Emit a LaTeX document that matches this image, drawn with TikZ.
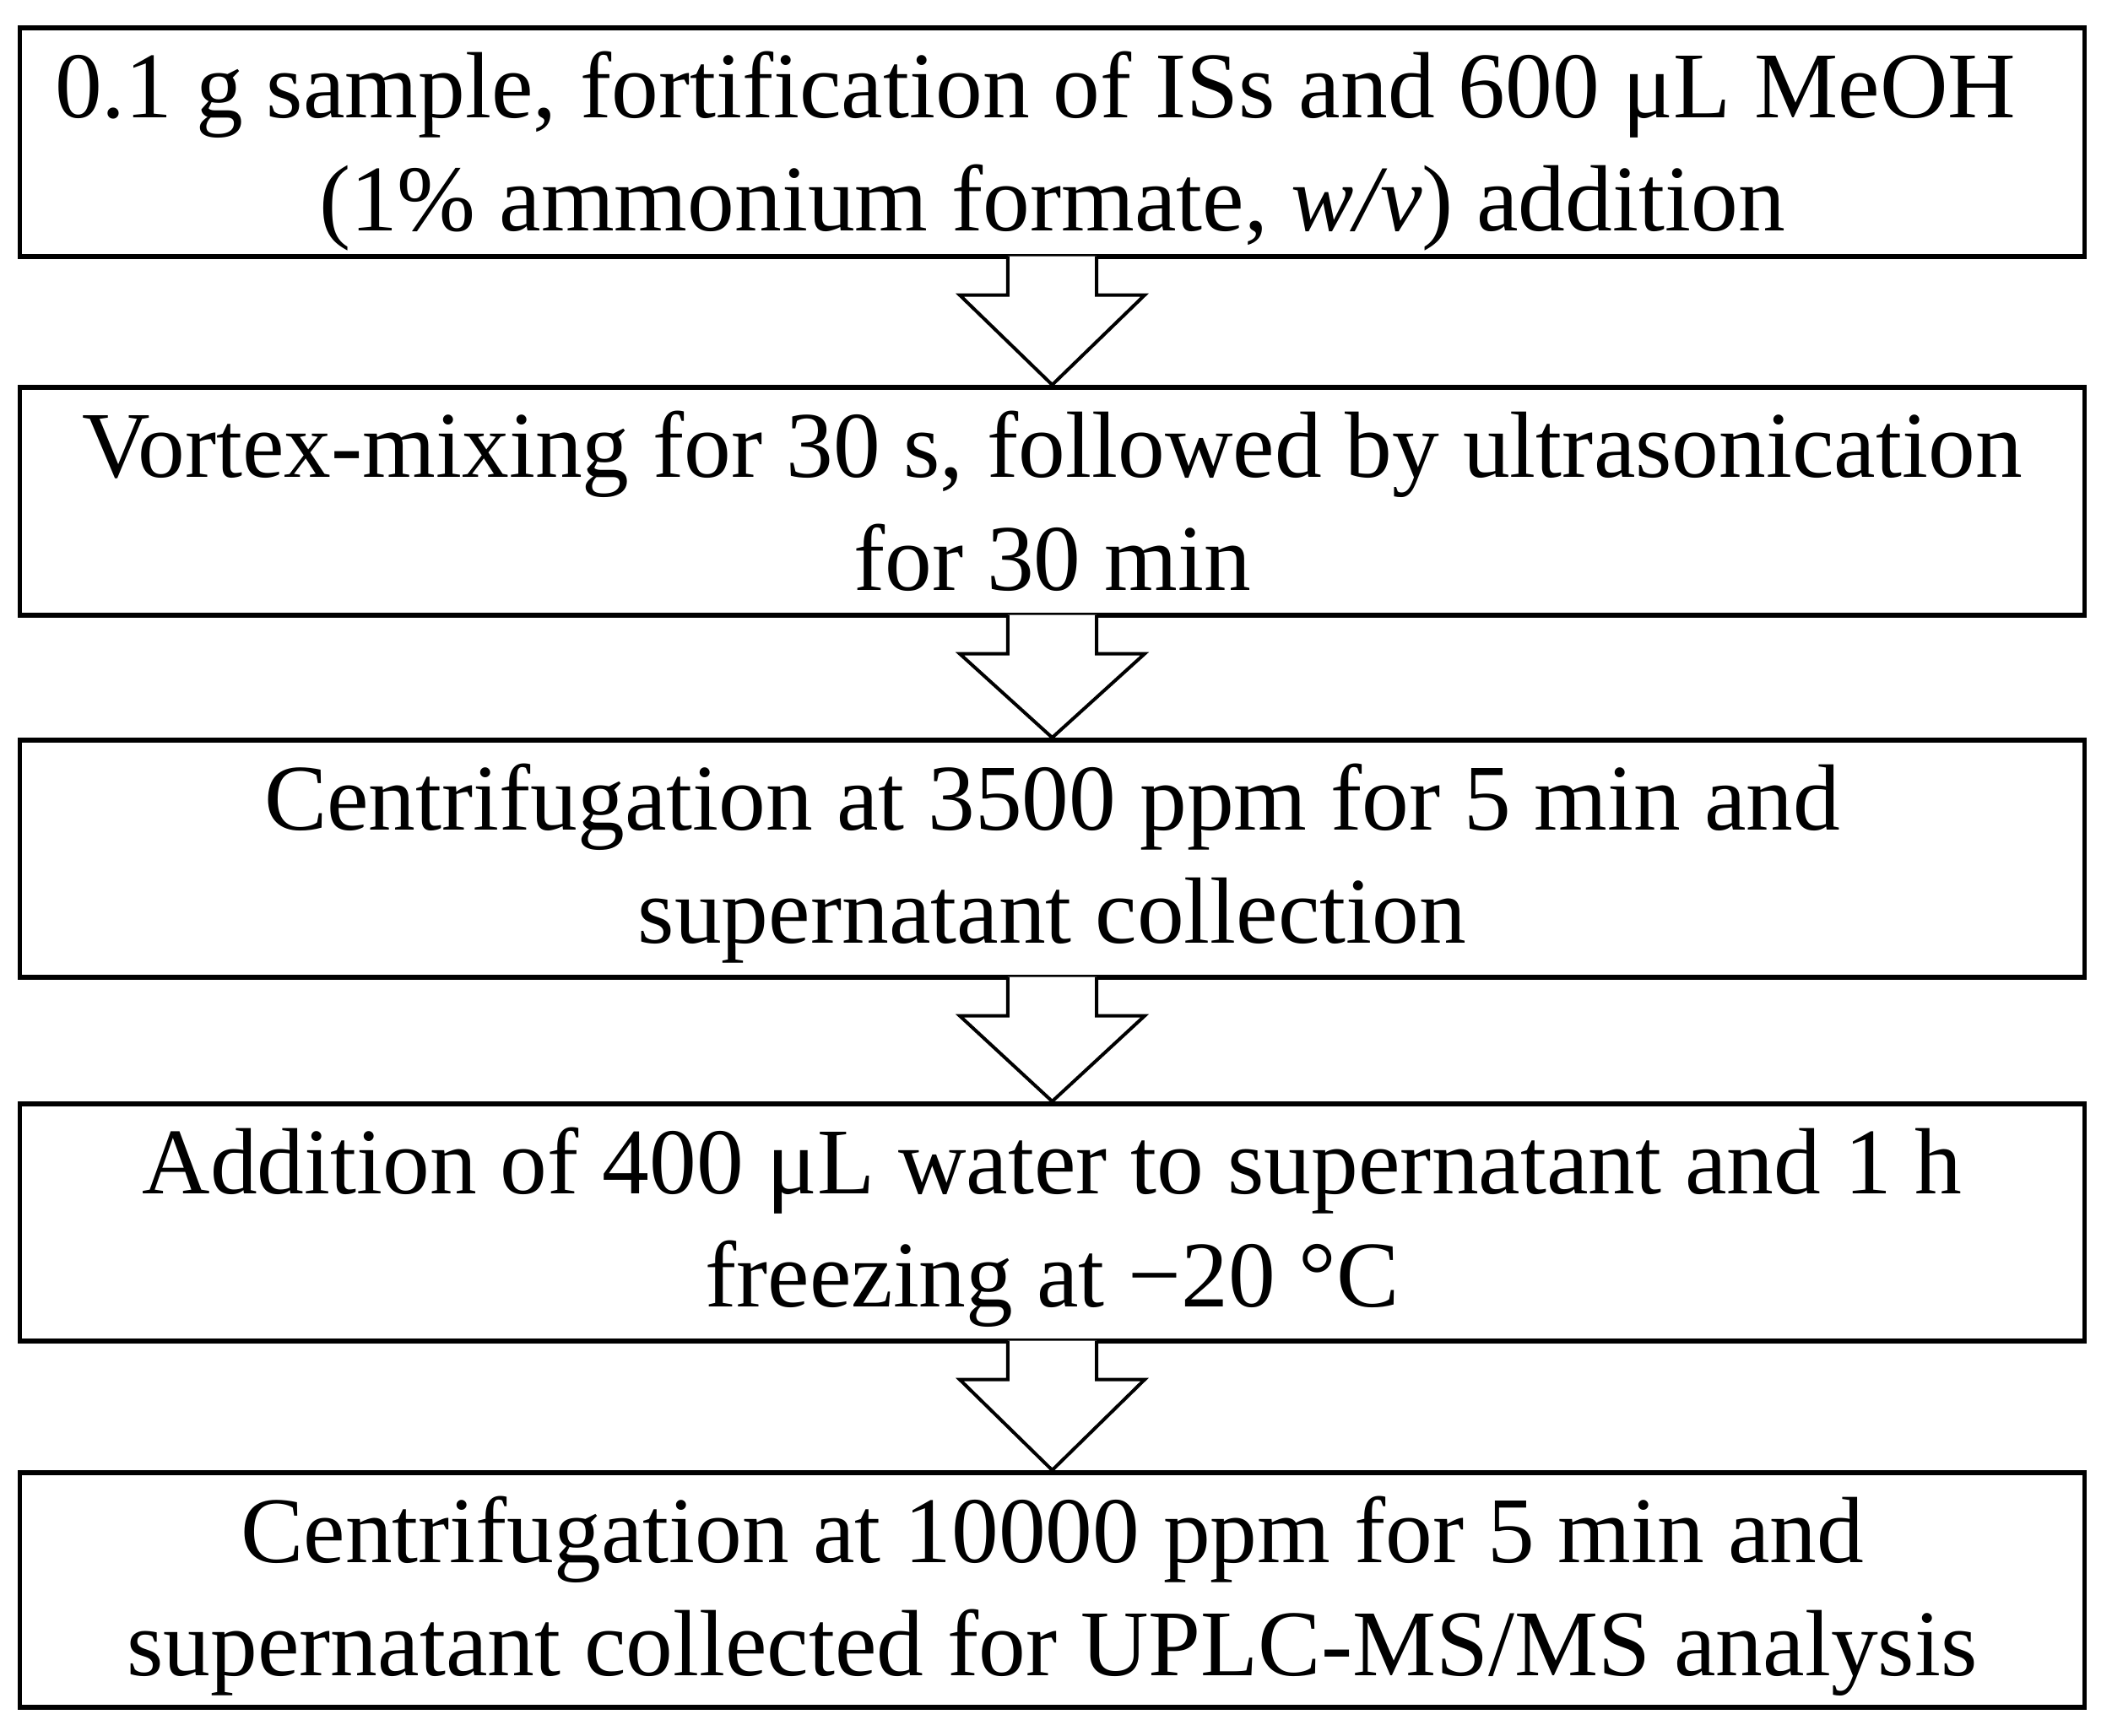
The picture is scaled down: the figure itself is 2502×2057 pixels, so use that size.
\documentclass[tikz,border=0pt]{standalone}
\usepackage{fontspec}
\setmainfont{Liberation Serif}
\usetikzlibrary{calc}
\begin{document}
\begin{tikzpicture}[x=0.01cm,y=-0.01cm,
  stepbox/.style={draw=black,line width=0.055cm,fill=white,minimum width=24.45cm,inner sep=0pt,anchor=north},
  txt/.style={anchor=base,inner sep=0pt,font=\fontsize{31.7pt}{38pt}\selectfont},
  blk/.style={draw=black,line width=0.04cm,fill=white,line join=miter}]
\useasboundingbox (0,0) rectangle (2502,2057);
\node[stepbox,minimum height=2.71cm] (b1) at (1246.5,30) {};
\node[stepbox,minimum height=2.70cm] (b2) at (1246.5,456) {};
\node[stepbox,minimum height=2.81cm] (b3) at (1246.5,874) {};
\node[stepbox,minimum height=2.81cm] (b4) at (1246.5,1305) {};
\node[stepbox,minimum height=2.78cm] (b5) at (1246.5,1742) {};
\node[txt] (t1a) at ([xshift=-0.2cm,yshift=-1.09cm]b1.north) {0.1 g sample, fortification of ISs and 600 μL MeOH};
\node[txt] (t1b) at ([yshift=-2.43cm]b1.north) {(1\% ammonium formate, \textit{w/v}) addition};
\node[txt] (t2a) at ([yshift=-1.09cm]b2.north) {Vortex-mixing for 30 s, followed by ultrasonication};
\node[txt] (t2b) at ([yshift=-2.43cm]b2.north) {for 30 min};
\node[txt] (t3a) at ([yshift=-1.09cm]b3.north) {Centrifugation at 3500 ppm for 5 min and};
\node[txt] (t3b) at ([yshift=-2.43cm]b3.north) {supernatant collection};
\node[txt] (t4a) at ([yshift=-1.09cm]b4.north) {Addition of 400 μL water to supernatant and 1 h};
\node[txt] (t4b) at ([yshift=-2.43cm]b4.north) {freezing at −20 °C};
\node[txt] (t5a) at ([yshift=-1.09cm]b5.north) {Centrifugation at 10000 ppm for 5 min and};
\node[txt] (t5b) at ([yshift=-2.43cm]b5.north) {supernatant collected for UPLC-MS/MS analysis};
\foreach \a/\b in {b1/b2,b2/b3,b3/b4,b4/b5}{
  \draw[blk] ([xshift=-0.525cm,yshift=0.03cm]\a.south) -- ++(0,46) -- ++(-57,0) -- (\b.north)
    -- ($(\a.south)+(109.5,43)$) -- ++(-57,0) -- ([xshift=0.525cm,yshift=0.03cm]\a.south);
}
\end{tikzpicture}
\end{document}
